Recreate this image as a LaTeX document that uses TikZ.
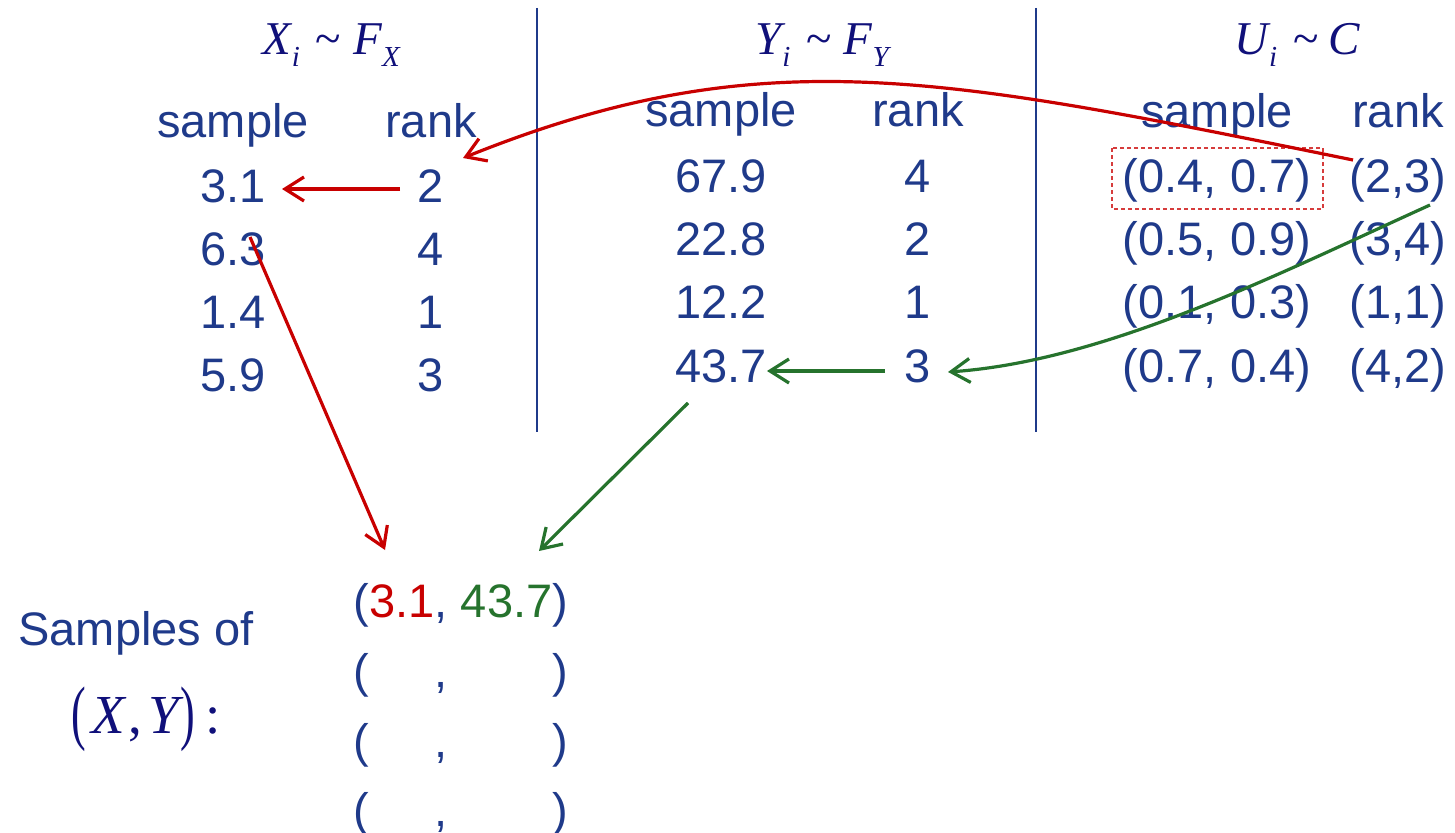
\documentclass[tikz,border=0pt]{standalone}
\usepackage{fontspec}
\setmainfont{Liberation Sans}
\newfontfamily\tms{Liberation Serif}
\usetikzlibrary{arrows.meta}
\definecolor{txtblue}{RGB}{31,58,138}
\definecolor{mathblue}{RGB}{16,16,122}
\definecolor{myred}{RGB}{200,0,0}
\definecolor{mygreen}{RGB}{38,115,45}
\definecolor{dashred}{RGB}{214,60,60}
\newcommand{\msub}[1]{\raisebox{-12pt}{\fontsize{29}{29}\selectfont\itshape #1}}
\begin{document}
\begin{tikzpicture}[x=1pt,y=-1pt,
  txt/.style={anchor=base, inner sep=0pt, text=txtblue, font=\fontsize{47}{56}\selectfont},
  mth/.style={anchor=base, inner sep=0pt, text=mathblue, font=\fontsize{47}{52}\selectfont\tms},
  bigmth/.style={anchor=base, inner sep=0pt, text=mathblue, font=\fontsize{55}{60}\selectfont\tms},
  sepline/.style={draw=txtblue, line width=1.5pt},
  redarr/.style={draw=myred, line width=3.2pt, -{Straight Barb[length=19pt,width=24pt,line width=3.2pt]}},
  grnarr/.style={draw=mygreen, line width=3.2pt, -{Straight Barb[length=19pt,width=24pt,line width=3.2pt]}},
  dashbox/.style={draw=dashred, line width=1.2pt, dash pattern=on 4pt off 3pt}
]
\useasboundingbox (0,0) rectangle (1455,832);

% separators
\coordinate (s1t) at (537,8);  \coordinate (s1b) at (537,432);
\coordinate (s2t) at (1036,8); \coordinate (s2b) at (1036,432);
\draw[sepline] (s1t) -- (s1b);
\draw[sepline] (s2t) -- (s2b);

% headings
\node[mth] (hx) at (331,55) {\itshape X\kern1pt\msub{i}\hspace{16pt}\upshape\textasciitilde\hspace{12pt}\itshape F\msub{X}};
\node[mth] (hy) at (822,55) {\itshape Y\kern1pt\msub{i}\hspace{16pt}\upshape\textasciitilde\hspace{12pt}\itshape F\msub{Y}};
\node[mth] (hu) at (1297,55) {\itshape U\kern1pt\msub{i}\hspace{16pt}\upshape\textasciitilde\hspace{10pt}\itshape C};

% left table
\node[txt] (ls) at (233,138) {sample};
\node[txt] (lr) at (431,138) {rank};
\node[txt] (x1) at (233,202) {3.1};  \node[txt] (rx1) at (431,202) {2};
\node[txt] (x2) at (233,265) {6.3};  \node[txt] (rx2) at (431,265) {4};
\node[txt] (x3) at (233,328) {1.4};  \node[txt] (rx3) at (431,328) {1};
\node[txt] (x4) at (233,391) {5.9};  \node[txt] (rx4) at (431,391) {3};

% middle table
\node[txt] (ms) at (721,127) {sample};
\node[txt] (mr) at (918,127) {rank};
\node[txt] (y1) at (721,192) {67.9}; \node[txt] (ry1) at (918,192) {4};
\node[txt] (y2) at (721,255) {22.8}; \node[txt] (ry2) at (918,255) {2};
\node[txt] (y3) at (721,318) {12.2}; \node[txt] (ry3) at (918,318) {1};
\node[txt] (y4) at (721,382) {43.7}; \node[txt] (ry4) at (918,382) {3};

% right table
\node[txt] (us) at (1217,128) {sample};
\node[txt] (ur) at (1398,128) {rank};
\node[txt] (u1) at (1217,192) {(0.4, 0.7)}; \node[txt] (ru1) at (1398,192) {(2,3)};
\node[txt] (u2) at (1217,255) {(0.5, 0.9)}; \node[txt] (ru2) at (1398,255) {(3,4)};
\node[txt] (u3) at (1217,318) {(0.1, 0.3)}; \node[txt] (ru3) at (1398,318) {(1,1)};
\node[txt] (u4) at (1217,382) {(0.7, 0.4)}; \node[txt] (ru4) at (1398,382) {(4,2)};
\coordinate (db1) at (1112,148); \coordinate (db2) at (1323,209);
\draw[dashbox] (db1) rectangle (db2);

% bottom
\node[txt] (spl) at (136,645) {Samples of};
\node[bigmth] (xy) at (146,733) {\raisebox{-3pt}{\scalebox{0.8}[1.3]{(}}\kern6pt\itshape X\kern3pt\upshape,\kern6pt\itshape Y\kern2pt\upshape\raisebox{-3pt}{\scalebox{0.8}[1.3]{)}}\kern10pt:};
\node[txt] (p1) at (461,617) {(\textcolor{myred}{3.1}, \textcolor{mygreen}{43.7})};
\node[txt] (p2) at (461,687) {(\phantom{3.1}, \phantom{43.7})};
\node[txt] (p3) at (461,757) {(\phantom{3.1}, \phantom{43.7})};
\node[txt] (p4) at (461,826) {(\phantom{3.1}, \phantom{43.7})};

% arrows
\coordinate (a1s) at (1353,160); \coordinate (a1e) at (463,158);
\coordinate (a2s) at (400,189);  \coordinate (a2e) at (282,189);
\coordinate (a3s) at (250,237);  \coordinate (a3e) at (385,550);
\coordinate (g1s) at (1430,205); \coordinate (g1e) at (948,372);
\coordinate (g2s) at (885,371);  \coordinate (g2e) at (767,371);
\coordinate (g3s) at (688,403);  \coordinate (g3e) at (539,551);
\draw[redarr] (a1s) .. controls (941,76) and (761,38) .. (a1e);
\draw[redarr] (a2s) -- (a2e);
\draw[redarr] (a3s) -- (a3e);
\draw[grnarr] (g1s) .. controls (1284,271) and (1108,361) .. (g1e);
\draw[grnarr] (g2s) -- (g2e);
\draw[grnarr] (g3s) -- (g3e);
\end{tikzpicture}
\end{document}
